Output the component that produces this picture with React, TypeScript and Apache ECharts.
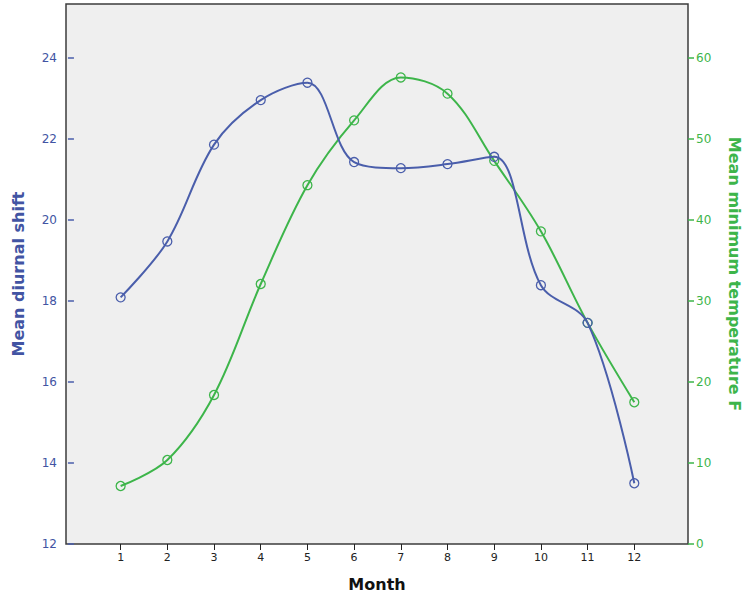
import React, { useEffect, useRef } from "react";
import * as echarts from "echarts";

const months = [1, 2, 3, 4, 5, 6, 7, 8, 9, 10, 11, 12];
const diurnalShift = [18.09, 19.47, 21.86, 22.96, 23.39, 21.43, 21.28, 21.38, 21.56, 18.39, 17.46, 13.5];
const minTemperature = [7.16, 10.37, 18.4, 32.1, 44.3, 52.3, 57.6, 55.6, 47.3, 38.6, 27.3, 17.5];
const leftTicks = [12, 14, 16, 18, 20, 22, 24];
const rightTicks = [0, 10, 20, 30, 40, 50, 60];

const BLUE = "#4a5eab";
const BLUE_TEXT = "#4254a3";
const GREEN = "#3db54a";
const FONT = "'DejaVu Sans', sans-serif";

export default function App() {
  const ref = useRef<HTMLDivElement>(null);
  useEffect(() => {
    if (!ref.current) return;
    const chart = echarts.init(ref.current, undefined, { renderer: "svg" });
    chart.setOption({
      animation: false,
      backgroundColor: "#ffffff",
      grid: {
        show: true,
        left: 66,
        right: 58,
        top: 4,
        bottom: 54,
        outerBoundsMode: "none",
        containLabel: false,
        backgroundColor: "#efefef",
        borderColor: "#3c3c3c",
        borderWidth: 1.5,
      },
      xAxis: {
        type: "value",
        min: -0.17,
        max: 13.15,
        name: "Month",
        nameLocation: "middle",
        nameGap: 32,
        nameTextStyle: { fontFamily: FONT, fontWeight: "bold", fontSize: 16, color: "#111" },
        axisLine: { show: false },
        splitLine: { show: false },
        axisTick: { show: true, length: 6, lineStyle: { color: "#222", width: 1 }, customValues: months },
        axisLabel: { fontFamily: FONT, fontSize: 11, color: "#222", margin: 8, customValues: months },
      },
      yAxis: [
        {
          type: "value",
          position: "left",
          min: 12,
          max: 25.333,
          name: "Mean diurnal shift",
          nameLocation: "middle",
          nameGap: 40,
          nameRotate: 90,
          nameTextStyle: { fontFamily: FONT, fontWeight: "bold", fontSize: 16, color: BLUE_TEXT },
          axisLine: { show: false },
          splitLine: { show: false },
          axisTick: { show: true, length: 6, lineStyle: { color: BLUE, width: 1.5 }, customValues: leftTicks },
          axisLabel: { fontFamily: FONT, fontSize: 12, color: BLUE_TEXT, margin: 9, customValues: leftTicks },
        },
        {
          type: "value",
          position: "right",
          min: 0,
          max: 66.667,
          name: "Mean minimum temperature F",
          nameLocation: "middle",
          nameGap: 38,
          nameRotate: -90,
          nameTextStyle: { fontFamily: FONT, fontWeight: "bold", fontSize: 16, color: GREEN },
          axisLine: { show: false },
          splitLine: { show: false },
          axisTick: { show: true, length: 6, lineStyle: { color: GREEN, width: 1.5 }, customValues: rightTicks },
          axisLabel: { fontFamily: FONT, fontSize: 12, color: GREEN, margin: 8, customValues: rightTicks },
        },
      ],
      series: [
        {
          type: "line",
          yAxisIndex: 0,
          data: months.map((m, i) => [m, diurnalShift[i]]),
          smooth: 0.35,
          symbol: "circle",
          symbolSize: 9,
          lineStyle: { color: BLUE, width: 2 },
          itemStyle: { color: "rgba(0,0,0,0)", borderColor: BLUE, borderWidth: 1.3 },
          z: 3,
        },
        {
          type: "line",
          yAxisIndex: 1,
          data: months.map((m, i) => [m, minTemperature[i]]),
          smooth: 0.35,
          symbol: "circle",
          symbolSize: 9,
          lineStyle: { color: GREEN, width: 2 },
          itemStyle: { color: "rgba(0,0,0,0)", borderColor: GREEN, borderWidth: 1.3 },
          z: 2,
        },
      ],
    });
    return () => chart.dispose();
  }, []);
  return <div ref={ref} style={{ width: 746, height: 598, position: "absolute", left: 0, top: 0 }} />;
}
